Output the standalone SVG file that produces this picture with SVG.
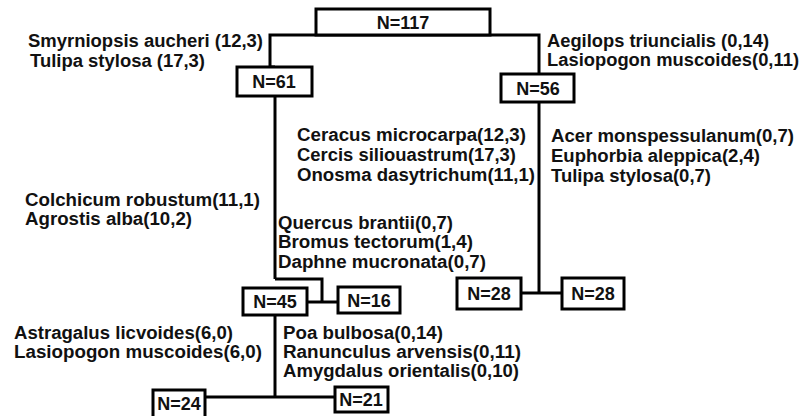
<svg xmlns="http://www.w3.org/2000/svg" width="806" height="416" viewBox="0 0 806 416">
<style>
.t{font-family:"Liberation Sans",Arial,sans-serif;font-weight:bold;font-size:18px;fill:#111;}
.n{font-family:"Liberation Sans",Arial,sans-serif;font-weight:bold;font-size:18px;fill:#111;text-anchor:middle;}
.b{fill:#fff;stroke:#000;stroke-width:3;}
.c{fill:none;stroke:#000;stroke-width:3;}
</style>
<rect width="806" height="416" fill="#fff"/>
<g id="connectors">
<polyline class="c" points="275,67 270,67 270,35 539,35 539,74"/>
<line class="c" x1="275" y1="96" x2="275" y2="279"/>
<polyline class="c" points="275,279 322,279 322,302"/>
<line class="c" x1="307" y1="302" x2="338" y2="302"/>
<line class="c" x1="539" y1="102" x2="539" y2="293"/>
<line class="c" x1="521" y1="293" x2="562" y2="293"/>
<line class="c" x1="275" y1="315" x2="275" y2="397"/>
<line class="c" x1="205" y1="397" x2="335" y2="397"/>
</g>
<g id="n117"><rect class="b" x="316" y="9" width="174" height="26"/><text class="n" x="403" y="29">N=117</text></g>
<g id="n61"><rect class="b" x="237" y="67" width="75" height="29"/><text class="n" x="274" y="88">N=61</text></g>
<g id="n56"><rect class="b" x="501" y="74" width="73" height="28"/><text class="n" x="538" y="95">N=56</text></g>
<g id="n45"><rect class="b" x="243" y="288" width="64" height="27"/><text class="n" x="275" y="308">N=45</text></g>
<g id="n16"><rect class="b" x="338" y="287" width="62" height="26"/><text class="n" x="369" y="307">N=16</text></g>
<g id="n28a"><rect class="b" x="457" y="278" width="64" height="31"/><text class="n" x="489" y="300">N=28</text></g>
<g id="n28b"><rect class="b" x="562" y="278" width="62" height="31"/><text class="n" x="593" y="300">N=28</text></g>
<g id="n24"><rect class="b" x="153" y="390" width="52" height="28"/><text class="n" x="179" y="410">N=24</text></g>
<g id="n21"><rect class="b" x="335" y="387" width="53" height="25"/><text class="n" x="361" y="406">N=21</text></g>
<g id="labels">
<text class="t" x="28" y="47" textLength="235" lengthAdjust="spacingAndGlyphs">Smyrniopsis aucheri (12,3)</text>
<text class="t" x="30" y="67" textLength="175" lengthAdjust="spacingAndGlyphs">Tulipa stylosa (17,3)</text>
<text class="t" x="547" y="47" textLength="222" lengthAdjust="spacingAndGlyphs">Aegilops triuncialis (0,14)</text>
<text class="t" x="547" y="66" textLength="252" lengthAdjust="spacingAndGlyphs">Lasiopogon muscoides(0,11)</text>
<text class="t" x="297" y="141" textLength="229" lengthAdjust="spacingAndGlyphs">Ceracus microcarpa(12,3)</text>
<text class="t" x="297" y="161" textLength="219" lengthAdjust="spacingAndGlyphs">Cercis siliouastrum(17,3)</text>
<text class="t" x="297" y="181" textLength="238" lengthAdjust="spacingAndGlyphs">Onosma dasytrichum(11,1)</text>
<text class="t" x="551" y="142" textLength="243" lengthAdjust="spacingAndGlyphs">Acer monspessulanum(0,7)</text>
<text class="t" x="551" y="162" textLength="209" lengthAdjust="spacingAndGlyphs">Euphorbia aleppica(2,4)</text>
<text class="t" x="551" y="182" textLength="160" lengthAdjust="spacingAndGlyphs">Tulipa stylosa(0,7)</text>
<text class="t" x="25" y="206" textLength="235" lengthAdjust="spacingAndGlyphs">Colchicum robustum(11,1)</text>
<text class="t" x="25" y="225" textLength="167" lengthAdjust="spacingAndGlyphs">Agrostis alba(10,2)</text>
<text class="t" x="278" y="229" textLength="175" lengthAdjust="spacingAndGlyphs">Quercus brantii(0,7)</text>
<text class="t" x="278" y="248" textLength="195" lengthAdjust="spacingAndGlyphs">Bromus tectorum(1,4)</text>
<text class="t" x="278" y="268" textLength="208" lengthAdjust="spacingAndGlyphs">Daphne mucronata(0,7)</text>
<text class="t" x="14" y="339" textLength="219" lengthAdjust="spacingAndGlyphs">Astragalus licvoides(6,0)</text>
<text class="t" x="14" y="358" textLength="248" lengthAdjust="spacingAndGlyphs">Lasiopogon muscoides(6,0)</text>
<text class="t" x="283" y="339" textLength="160" lengthAdjust="spacingAndGlyphs">Poa bulbosa(0,14)</text>
<text class="t" x="283" y="358" textLength="238" lengthAdjust="spacingAndGlyphs">Ranunculus arvensis(0,11)</text>
<text class="t" x="283" y="377" textLength="236" lengthAdjust="spacingAndGlyphs">Amygdalus orientalis(0,10)</text>
</g>
</svg>
